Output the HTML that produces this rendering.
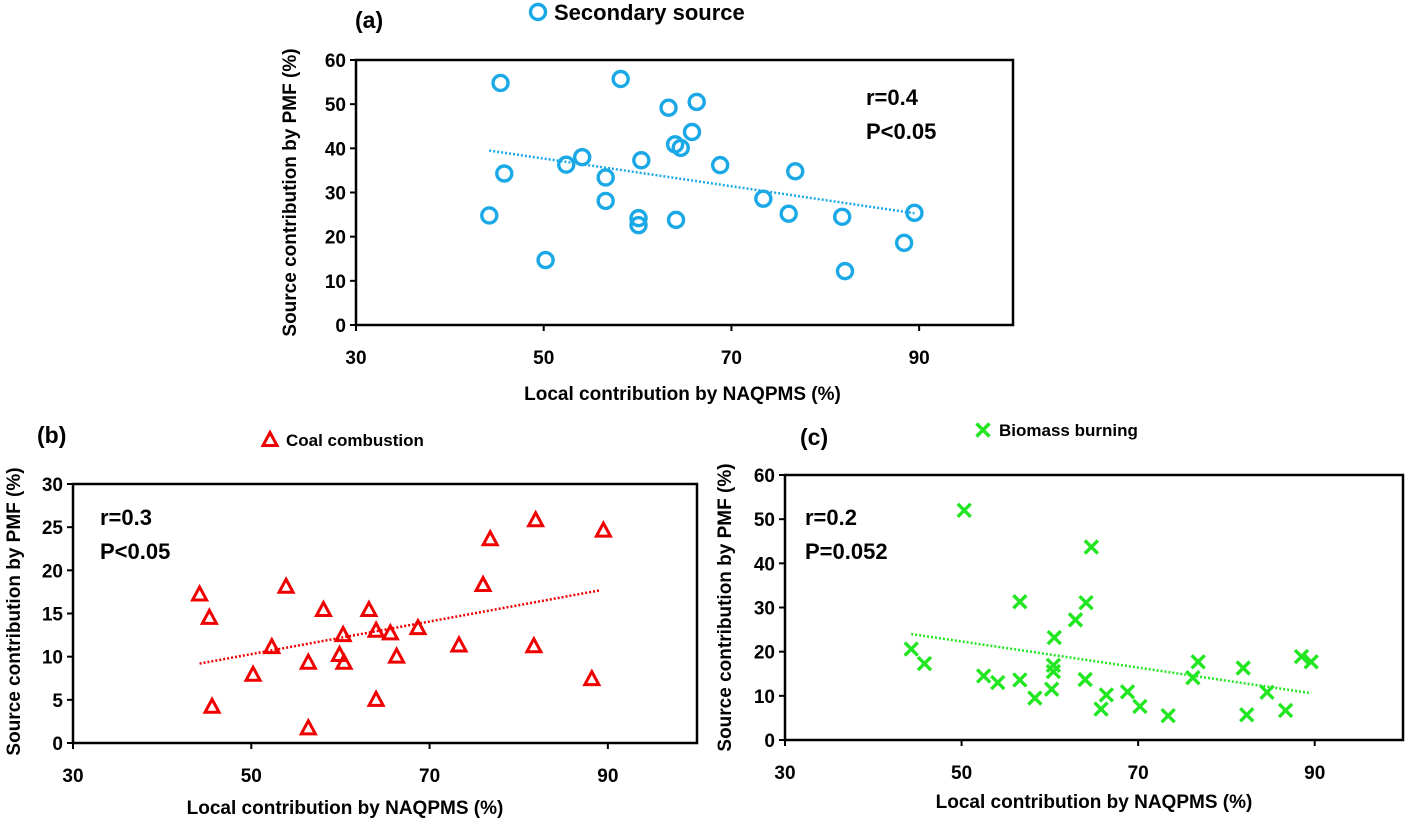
<!DOCTYPE html>
<html><head><meta charset="utf-8"><style>
html,body{margin:0;padding:0;background:#fff;}
svg{display:block;font-family:"Liberation Sans",sans-serif;font-weight:bold;}
</style></head><body>
<svg id="chart" width="1406" height="819" viewBox="0 0 1406 819"></svg>
<script>
// Panel (a) data - Secondary source
const aX=[45.4,58.2,63.3,66.3,65.8,64.0,64.6,54.1,52.4,60.4,68.8,76.8,45.8,56.6,56.6,73.4,44.2,60.1,60.1,64.1,76.1,81.8,89.5,88.4,82.1,50.2];
const aY=[54.8,55.7,49.2,50.5,43.7,40.9,40.1,38.0,36.3,37.3,36.2,34.8,34.3,33.4,28.1,28.6,24.8,24.2,22.6,23.8,25.2,24.5,25.4,18.6,12.2,14.7];
const aTrend=[[44.2,39.5],[89.5,25.3]];
// Panel (b) data - Coal combustion
const bX=[44.2,45.3,45.6,50.2,52.3,53.9,56.4,56.4,58.1,59.9,60.3,60.4,63.2,64.0,64.0,65.6,66.3,68.7,73.3,76.0,76.8,81.9,81.7,89.5,88.2];
const bY=[17.2,14.5,4.2,7.9,11.1,18.1,9.3,1.7,15.4,10.2,12.5,9.3,15.4,13.0,5.0,12.7,10.0,13.3,11.3,18.3,23.6,25.8,11.2,24.6,7.4];
const bTrend=[[44.2,9.2],[89.2,17.7]];
// Panel (c) data - Biomass burning
const cX=[44.3,45.8,50.3,52.5,54.1,56.6,56.6,58.3,60.2,60.4,60.4,60.5,62.9,64.1,64.0,64.7,65.8,66.4,68.8,70.2,73.4,76.2,76.8,81.9,82.3,84.6,86.7,88.5,89.6];
const cY=[20.6,17.3,52.0,14.5,13.0,13.6,31.3,9.5,11.5,16.9,15.5,23.2,27.2,31.1,13.7,43.7,7.0,10.2,10.9,7.6,5.5,14.1,17.7,16.3,5.7,10.8,6.7,18.9,17.7];
const cTrend=[[44.3,24.0],[89.6,10.6]];
const xTicks=[30,50,70,90];
const aYTicks=[0,10,20,30,40,50,60];
const bYTicks=[0,5,10,15,20,25,30];
const cYTicks=[0,10,20,30,40,50,60];

const NS="http://www.w3.org/2000/svg";
const svg=document.getElementById('chart');
function mk(tag,attrs,parent){const e=document.createElementNS(NS,tag);for(const k in attrs)e.setAttribute(k,attrs[k]);(parent||svg).appendChild(e);return e;}
function txt(s,attrs,parent){const e=mk('text',attrs,parent);e.textContent=s;return e;}

function panel(cfg){
  const g=mk('g',{});
  
  
  const sx=v=>cfg.x0+(v-30)/70*(cfg.x1-cfg.x0);
  const sy=v=>cfg.y0-(v/cfg.ymax)*(cfg.y0-cfg.y1);
  const frame=mk('rect',{x:cfg.x0,y:cfg.y1,width:cfg.x1-cfg.x0,height:cfg.y0-cfg.y1,fill:'none',stroke:'#000','stroke-width':2.5},g);
  
  
  xTicks.forEach(t=>{
    const x=sx(t);
    mk('line',{x1:x,y1:cfg.y0,x2:x,y2:cfg.y0+6,stroke:'#000','stroke-width':2},g);
    const l=txt(String(t),{x:x,y:cfg.y0+39,'text-anchor':'middle','font-size':19},g);
    
    
  });
  cfg.yTicks.forEach(t=>{
    const y=sy(t);
    mk('line',{x1:cfg.x0-6,y1:y,x2:cfg.x0,y2:y,stroke:'#000','stroke-width':2},g);
    const l=txt(String(t),{x:cfg.x0-10,y:y+7,'text-anchor':'end','font-size':19},g);
    
    
  });
  const tl=mk('line',{x1:sx(cfg.trend[0][0]),y1:sy(cfg.trend[0][1]),x2:sx(cfg.trend[1][0]),y2:sy(cfg.trend[1][1]),stroke:cfg.color,'stroke-width':2.5,'stroke-dasharray':'2 2'},g);
  
  
  cfg.xs.forEach((xv,i)=>{
    const p=marker(cfg.marker,sx(xv),sy(cfg.ys[i]),cfg.color,g);
    
    
  });
  const xt=txt('Local contribution by NAQPMS (%)',{x:(cfg.x0+cfg.x1)/2-cfg.xtOff,y:cfg.y0+cfg.xtDy,'text-anchor':'middle','font-size':19},g);
  
  
  const yc=(cfg.y0+cfg.y1)/2+cfg.ytOff;
  const yt=txt('Source contribution by PMF (%)',{x:cfg.ytX,y:yc,'text-anchor':'middle','font-size':19,transform:`rotate(-90 ${cfg.ytX} ${yc})`},g);
  
  
  const r=txt(cfg.r,{x:cfg.annX,y:cfg.annY,'font-size':22},g);
  
  
  const p=txt(cfg.p,{x:cfg.annX,y:cfg.annY+34,'font-size':22},g);
  
  
  const lb=txt(cfg.label,{x:cfg.labX,y:cfg.labY,'font-size':23},g);
  
  
  const lg=mk('g',{},g);
  
  
  marker(cfg.marker,cfg.legX,cfg.legY,cfg.color,lg);
  txt(cfg.legText,{x:cfg.legX+16,y:cfg.legY+cfg.legFs*0.36,'font-size':cfg.legFs},lg);
}
function marker(type,x,y,c,parent){
  if(type==='circle') return mk('circle',{cx:x,cy:y,r:7.5,fill:'none',stroke:c,'stroke-width':3.4},parent);
  if(type==='tri') return mk('polygon',{points:`${x},${y-7.5} ${x+7},${y+5.5} ${x-7},${y+5.5}`,fill:'none',stroke:c,'stroke-width':3,'stroke-linejoin':'miter'},parent);
  return mk('path',{d:`M${x-6.5},${y-6.5}L${x+6.5},${y+6.5}M${x+6.5},${y-6.5}L${x-6.5},${y+6.5}`,stroke:c,'stroke-width':3.4},parent);
}
panel({name:'panel-a-secondary-source',x0:356,x1:1013,y0:325,y1:60,ymax:60,yTicks:aYTicks,xs:aX,ys:aY,trend:aTrend,color:'#1aa9e6',marker:'circle',
  xtOff:2,xtDy:75,ytX:296,ytOff:0,r:'r=0.4',p:'P<0.05',annX:866,annY:105,label:'(a)',labX:355,labY:28,legX:538,legY:12,legText:'Secondary source',legFs:22});
panel({name:'panel-b-coal-combustion',x0:73,x1:697,y0:743,y1:484,ymax:30,yTicks:bYTicks,xs:bX,ys:bY,trend:bTrend,color:'#f00000',marker:'tri',
  xtOff:40,xtDy:71,ytX:20,ytOff:-2,r:'r=0.3',p:'P<0.05',annX:100,annY:525,label:'(b)',labX:37,labY:443,legX:270,legY:440,legText:'Coal combustion',legFs:17});
panel({name:'panel-c-biomass-burning',x0:785,x1:1403,y0:740,y1:475,ymax:60,yTicks:cYTicks,xs:cX,ys:cY,trend:cTrend,color:'#22e622',marker:'x',
  xtOff:0,xtDy:68,ytX:731,ytOff:0,r:'r=0.2',p:'P=0.052',annX:805,annY:525,label:'(c)',labX:800,labY:445,legX:983,legY:430,legText:'Biomass burning',legFs:17});
</script>
</body></html>
